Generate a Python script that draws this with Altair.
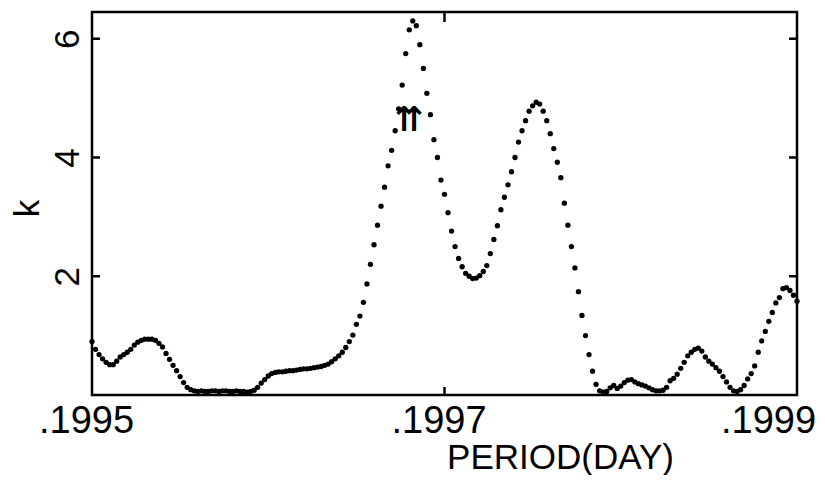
import altair as alt
import numpy as np
import pandas as pd

# Period grid (day) on which the periodogram is sampled
period = np.linspace(0.1995, 0.1999, 201)

# k values, one per dot
k = [
    0.90, 0.77, 0.68, 0.61, 0.55, 0.51, 0.51, 0.57, 0.64, 0.68,
    0.72, 0.77, 0.84, 0.89, 0.92, 0.94, 0.94, 0.94, 0.92, 0.87,
    0.81, 0.70, 0.60, 0.50, 0.41, 0.31, 0.21, 0.13, 0.09, 0.07,
    0.06, 0.07, 0.06, 0.06, 0.07, 0.07, 0.06, 0.07, 0.07, 0.06,
    0.06, 0.07, 0.06, 0.06, 0.05, 0.06, 0.08, 0.13, 0.20, 0.26,
    0.32, 0.36, 0.38, 0.39, 0.39, 0.40, 0.41, 0.41, 0.42, 0.43,
    0.44, 0.44, 0.45, 0.46, 0.47, 0.48, 0.50, 0.52, 0.56, 0.61,
    0.66, 0.72, 0.80, 0.90, 1.01, 1.19, 1.33, 1.56, 1.87, 2.20,
    2.53, 2.86, 3.18, 3.50, 3.86, 4.12, 4.45, 4.82, 5.22, 5.75,
    6.15, 6.30, 6.22, 5.90, 5.50, 5.08, 4.72, 4.30, 4.00, 3.62,
    3.38, 3.07, 2.76, 2.50, 2.30, 2.16, 2.05, 2.00, 1.96, 1.97,
    2.01, 2.08, 2.18, 2.38, 2.62, 2.85, 3.12, 3.33, 3.54, 3.76,
    4.00, 4.26, 4.45, 4.62, 4.78, 4.87, 4.93, 4.90, 4.78, 4.62,
    4.40, 4.15, 3.92, 3.66, 3.23, 2.86, 2.50, 2.14, 1.74, 1.34,
    1.00, 0.68, 0.40, 0.18, 0.07, 0.05, 0.06, 0.12, 0.16, 0.11,
    0.15, 0.21, 0.25, 0.26, 0.22, 0.19, 0.17, 0.15, 0.12, 0.09,
    0.07, 0.07, 0.08, 0.13, 0.24, 0.28, 0.35, 0.45, 0.55, 0.66,
    0.72, 0.77, 0.79, 0.74, 0.64, 0.57, 0.52, 0.46, 0.40, 0.31,
    0.22, 0.13, 0.07, 0.06, 0.09, 0.16, 0.27, 0.36, 0.49, 0.72,
    0.91, 1.07, 1.24, 1.39, 1.55, 1.64, 1.79, 1.81, 1.76, 1.68,
    1.58,
]

x_ticks = [0.1995, 0.1997, 0.1999]
x_inner_ticks = [0.1997]
y_ticks = [2, 4, 6]

arrow_period = [0.19968]
arrow_k = [4.62]
arrow_text = ["⇈"]

W, H = 705, 383
FONT = "Liberation Sans, Arial, sans-serif"

df = pd.DataFrame({"period": period, "k": k})
xs = alt.Scale(domain=[0.1995, 0.1999], nice=False, zero=False)
ys = alt.Scale(domain=[0, 6.45], nice=False, zero=False)

xaxis = alt.Axis(
    values=x_ticks,
    labelExpr="substring(format(datum.value, '.4f'), 1)",
    title="PERIOD(DAY)",
    ticks=False,
    tickSize=0,
    domain=False,
    grid=False,
    labelFlush=False,
    labelOverlap=False,
    labelFont=FONT,
    labelFontSize=38,
    labelColor="black",
    labelPadding=7,
    labelOffset={"condition": {"test": "datum.value > 0.19985", "value": -29}, "value": -6},
    titleFont=FONT,
    titleFontSize=35,
    titleFontWeight="normal",
    titleColor="black",
    titleX=468,
    titleY=73,
    titleAlign="center",
    titleBaseline="alphabetic",
)

yaxis = alt.Axis(
    values=y_ticks,
    title="k",
    ticks=False,
    tickSize=0,
    domain=False,
    grid=False,
    labelFlush=False,
    labelOverlap=False,
    labelAngle=270,
    labelAlign="center",
    labelBaseline="alphabetic",
    labelPadding=14,
    labelFont=FONT,
    labelFontSize=35,
    labelColor="black",
    titleFont=FONT,
    titleFontSize=35,
    titleFontWeight="normal",
    titleColor="black",
    titleAngle=270,
    titleX=-54,
    titleY=196,
    titleAlign="center",
    titleBaseline="alphabetic",
)

X = lambda: alt.X("period:Q", scale=xs, axis=xaxis)
Y = lambda: alt.Y("k:Q", scale=ys, axis=yaxis)

points = alt.Chart(df).mark_circle(size=28, color="black", opacity=1).encode(x=X(), y=Y())

xt = pd.DataFrame({"period": x_inner_ticks})
yt = pd.DataFrame({"k": y_ticks})
rule_style = dict(color="black", strokeWidth=2.5)

bottom_ticks = alt.Chart(xt).mark_rule(**rule_style).encode(
    x=X(), y=alt.value(H), y2=alt.value(H - 8)
)
top_ticks = alt.Chart(xt).mark_rule(**rule_style).encode(
    x=X(), y=alt.value(0), y2=alt.value(10)
)
left_ticks = alt.Chart(yt).mark_rule(**rule_style).encode(
    y=Y(), x=alt.value(0), x2=alt.value(8)
)
right_ticks = alt.Chart(yt).mark_rule(**rule_style).encode(
    y=Y(), x=alt.value(W), x2=alt.value(W - 8)
)

arrows = alt.Chart(pd.DataFrame({"period": arrow_period, "k": arrow_k, "t": arrow_text})).mark_text(
    font="DejaVu Sans", fontSize=34, fontWeight="bold", color="black", baseline="middle", align="center"
).encode(x=X(), y=Y(), text="t:N")

chart = (
    alt.layer(points, bottom_ticks, top_ticks, left_ticks, right_ticks, arrows)
    .properties(
        width=W,
        height=H,
        autosize=alt.AutoSizeParams(type="none"),
        padding={"left": 84, "top": 4, "right": 20, "bottom": 80},
        background="white",
    )
    .configure_view(stroke="black", strokeWidth=2.5)
)

chart.save("out.html", embed_options={"renderer": "svg", "actions": False})
